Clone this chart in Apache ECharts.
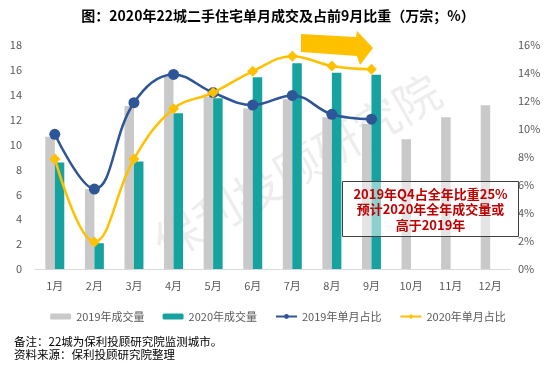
<!DOCTYPE html>
<html><head><meta charset="utf-8">
<script src="https://cdn.jsdelivr.net/npm/echarts@6/dist/echarts.min.js"></script>
<style>html,body{margin:0;padding:0;background:#fff}#c{width:556px;height:382px}</style>
</head><body><div id="c"></div>
<script>
const categories = ['1月','2月','3月','4月','5月','6月','7月','8月','9月','10月','11月','12月'];
const vol2019 = [10.63, 6.43, 13.1, 15.46, 13.85, 12.9, 13.64, 12.2, 11.65, 10.43, 12.2, 13.16];
const vol2020 = [8.55, 2.07, 8.63, 12.51, 13.72, 15.4, 16.53, 15.78, 15.6];
const share2019 = [9.62, 5.71, 11.88, 13.9, 12.6, 11.71, 12.4, 11.05, 10.7];
const share2020 = [7.86, 1.93, 7.86, 11.45, 12.6, 14.12, 15.2, 14.5, 14.26];
const seriesNames = ['2019年成交量', '2020年成交量', '2019年单月占比', '2020年单月占比'];
const leftAxisRange = {min: 0, max: 18, interval: 2};
const rightAxisRange = {min: 0, max: 16, interval: 2};
const titleText = '图：2020年22城二手住宅单月成交及占前9月比重（万宗；%）';
const noteLines = ['备注：22城为保利投顾研究院监测城市。', '资料来源：保利投顾研究院整理'];
const boxText = '2019年Q4占全年比重25%\n预计2020年全年成交量或\n高于2019年';
const watermark = '保利投顾研究院';

const FONT = '"Noto Sans CJK SC", "Noto Sans", sans-serif';
const chart = echarts.init(document.getElementById('c'), null, {renderer: 'canvas'});
chart.setOption({
  animation: false,
  backgroundColor: '#fff',
  textStyle: {fontFamily: FONT},
  grid: {left: 35, right: 46, top: 45, bottom: 113, containLabel: false},
  legend: {
    top: 306, left: 'center', itemWidth: 21, itemHeight: 6, itemGap: 18,
    textStyle: {color: '#595959', fontSize: 11, fontFamily: FONT},
    data: seriesNames
  },
  xAxis: {
    type: 'category', data: categories,
    axisLine: {lineStyle: {color: '#D9D9D9', width: 1}},
    axisTick: {show: false},
    axisLabel: {color: '#595959', fontSize: 11, margin: 11, fontFamily: FONT}
  },
  yAxis: [
    {type: 'value', min: leftAxisRange.min, max: leftAxisRange.max, interval: leftAxisRange.interval,
     axisLine: {show: false}, axisTick: {show: false}, splitLine: {show: false},
     axisLabel: {color: '#595959', fontSize: 11, margin: 13, fontFamily: FONT}},
    {type: 'value', min: rightAxisRange.min, max: rightAxisRange.max, interval: rightAxisRange.interval,
     position: 'right',
     axisLine: {show: false}, axisTick: {show: false}, splitLine: {show: false},
     axisLabel: {color: '#595959', fontSize: 11, margin: 8, formatter: '{value}%', fontFamily: FONT}}
  ],
  series: [
    {name: seriesNames[0], type: 'bar', data: vol2019, barWidth: 9.5, barGap: '0%',
     itemStyle: {color: '#C9C9C9'}, z: 2},
    {name: seriesNames[1], type: 'bar', data: vol2020, barWidth: 9.5, barGap: '0%',
     itemStyle: {color: '#16A3A0'}, z: 2},
    {name: seriesNames[2], type: 'line', yAxisIndex: 1, data: share2019, smooth: 0.4,
     symbol: 'circle', symbolSize: 11,
     lineStyle: {color: '#2E5597', width: 2.5}, itemStyle: {color: '#2E5597'}, z: 3},
    {name: seriesNames[3], type: 'line', yAxisIndex: 1, data: share2020, smooth: 0.4,
     symbol: 'diamond', symbolSize: 11,
     lineStyle: {color: '#FFC000', width: 2.5}, itemStyle: {color: '#FFC000'}, z: 4}
  ],
  graphic: [
    {type: 'text', z: -10, x: 297, y: 167, rotation: 0.52,
     style: {text: watermark, font: '46px ' + FONT, fill: 'rgba(0,0,0,0.07)', align: 'center', verticalAlign: 'middle'}},
    {type: 'text', z: 100, x: 278, y: 16,
     style: {text: titleText, font: 'bold 14px ' + FONT, fill: '#000', align: 'center', verticalAlign: 'middle'}},
    {type: 'text', z: 100, x: 14, y: 342,
     style: {text: noteLines[0], font: '11.5px ' + FONT, fill: '#000', align: 'left', verticalAlign: 'middle'}},
    {type: 'text', z: 100, x: 14, y: 355,
     style: {text: noteLines[1], font: '11.5px ' + FONT, fill: '#000', align: 'left', verticalAlign: 'middle'}},
    {type: 'polygon', z: 100,
     shape: {points: [[301, 34], [356, 37], [357, 31], [373, 48], [360, 65], [357, 56], [301, 52]]},
     style: {fill: '#FFC000'}},
    {type: 'rect', z: 100, shape: {x: 342.5, y: 181.5, width: 176, height: 55},
     style: {fill: 'rgba(255,255,255,0.5)', stroke: '#404040', lineWidth: 1}},
    {type: 'text', z: 101, x: 430.5, y: 209.5,
     style: {text: boxText, font: 'bold 13px ' + FONT, fill: '#C00000', align: 'center', verticalAlign: 'middle', lineHeight: 15.5}}
  ]
});
</script></body></html>
